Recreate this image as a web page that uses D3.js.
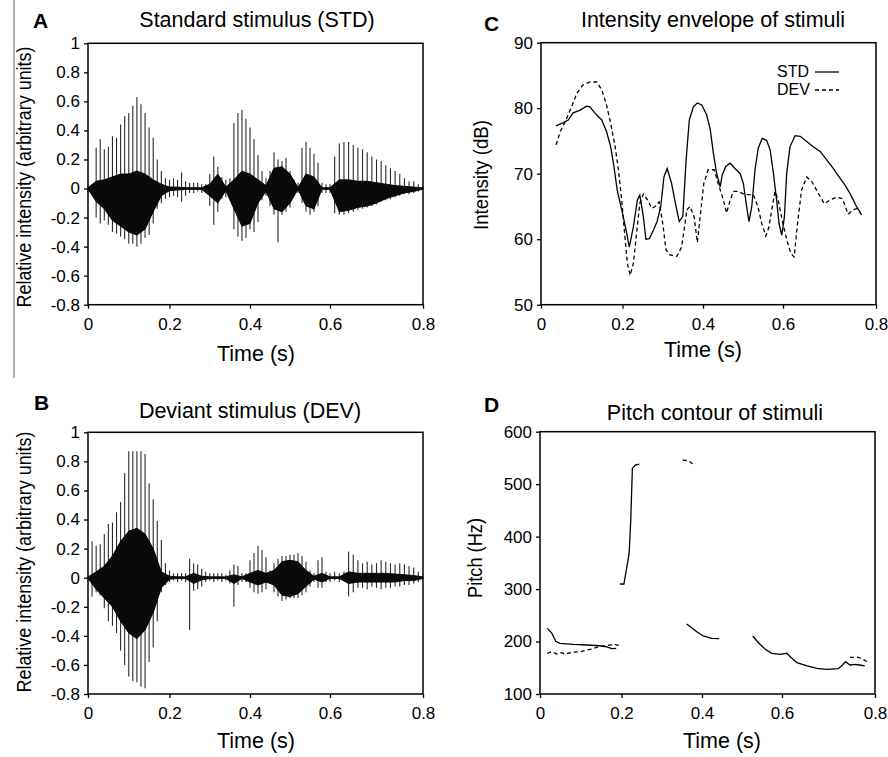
<!DOCTYPE html>
<html>
<head>
<meta charset="utf-8">
<script src="https://cdn.jsdelivr.net/npm/d3@7"></script>
<style>
  body { margin: 0; background: #fff; }
  svg text { font-family: "Liberation Sans", Arial, sans-serif; fill: #000; }
</style>
</head>
<body>
<svg id="chart" width="888" height="757"></svg>
<script>
// ---- data ----
const timeTicks = [0, 0.2, 0.4, 0.6, 0.8];
const waveTicks = [1, 0.8, 0.6, 0.4, 0.2, 0, -0.2, -0.4, -0.6, -0.8];
const dbTicks = [90, 80, 70, 60, 50];
const hzTicks = [600, 500, 400, 300, 200, 100];

// waveform peak envelope, one value every 10 ms
const waveTimes = [0,0.01,0.02,0.03,0.04,0.05,0.06,0.07,0.08,0.09,0.1,0.11,0.12,0.13,0.14,0.15,0.16,0.17,0.18,0.19,
  0.2,0.21,0.22,0.23,0.24,0.25,0.26,0.27,0.28,0.29,0.3,0.31,0.32,0.33,0.34,0.35,0.36,0.37,0.38,0.39,
  0.4,0.41,0.42,0.43,0.44,0.45,0.46,0.47,0.48,0.49,0.5,0.51,0.52,0.53,0.54,0.55,0.56,0.57,0.58,0.59,
  0.6,0.61,0.62,0.63,0.64,0.65,0.66,0.67,0.68,0.69,0.7,0.71,0.72,0.73,0.74,0.75,0.76,0.77,0.78,0.79,0.8];
const stdHigh = [0.03,0.03,0.28,0.34,0.27,0.29,0.36,0.35,0.44,0.5,0.52,0.57,0.63,0.58,0.52,0.42,0.35,0.2,0.12,0.07,
  0.06,0.07,0.06,0.11,0.05,0.04,0.04,0.04,0.03,0.03,0.1,0.22,0.15,0.08,0.06,0.07,0.45,0.52,0.54,0.48,
  0.42,0.34,0.23,0.12,0.07,0.12,0.25,0.2,0.19,0.21,0.12,0.06,0.04,0.28,0.32,0.28,0.24,0.18,0.04,0.03,
  0.03,0.22,0.31,0.32,0.32,0.3,0.28,0.27,0.25,0.22,0.2,0.19,0.16,0.14,0.12,0.1,0.07,0.05,0.05,0.03,0.02];
const stdLow = [-0.02,-0.03,-0.2,-0.24,-0.22,-0.25,-0.3,-0.31,-0.33,-0.35,-0.38,-0.38,-0.4,-0.38,-0.34,-0.32,-0.24,-0.14,-0.1,-0.07,
  -0.06,-0.05,-0.06,-0.09,-0.05,-0.03,-0.03,-0.02,-0.03,-0.02,-0.12,-0.25,-0.16,-0.07,-0.06,-0.05,-0.28,-0.33,-0.36,-0.34,
  -0.28,-0.3,-0.23,-0.08,-0.05,-0.12,-0.18,-0.37,-0.18,-0.16,-0.13,-0.05,-0.03,-0.1,-0.16,-0.18,-0.16,-0.12,-0.03,-0.03,
  -0.03,-0.17,-0.18,-0.18,-0.17,-0.16,-0.15,-0.14,-0.13,-0.12,-0.11,-0.09,-0.08,-0.07,-0.06,-0.05,-0.04,-0.04,-0.03,-0.02,-0.01];
const devHigh = [0.02,0.25,0.22,0.23,0.3,0.37,0.38,0.45,0.52,0.72,0.87,0.87,0.87,0.87,0.85,0.65,0.54,0.39,0.26,0.1,
  0.05,0.03,0.03,0.03,0.03,0.13,0.1,0.09,0.06,0.04,0.03,0.03,0.03,0.03,0.02,0.05,0.09,0.08,0.03,0.03,
  0.12,0.17,0.22,0.19,0.14,0.05,0.1,0.13,0.15,0.15,0.16,0.16,0.17,0.15,0.11,0.05,0.03,0.12,0.14,0.04,
  0.03,0.04,0.03,0.04,0.18,0.16,0.12,0.1,0.11,0.09,0.1,0.12,0.11,0.1,0.09,0.1,0.09,0.08,0.07,0.04,0.02];
const devLow = [-0.02,-0.13,-0.1,-0.12,-0.21,-0.3,-0.33,-0.38,-0.5,-0.6,-0.68,-0.71,-0.72,-0.75,-0.76,-0.58,-0.48,-0.3,-0.1,-0.05,
  -0.03,-0.02,-0.03,-0.02,-0.03,-0.36,-0.09,-0.08,-0.06,-0.03,-0.02,-0.03,-0.02,-0.03,-0.02,-0.04,-0.2,-0.05,-0.03,-0.03,
  -0.07,-0.1,-0.11,-0.1,-0.08,-0.04,-0.1,-0.13,-0.16,-0.15,-0.14,-0.14,-0.14,-0.12,-0.1,-0.06,-0.03,-0.07,-0.07,-0.03,
  -0.03,-0.02,-0.03,-0.02,-0.13,-0.1,-0.07,-0.07,-0.08,-0.06,-0.07,-0.08,-0.07,-0.07,-0.06,-0.06,-0.05,-0.05,-0.04,-0.03,-0.01];

// dense dark core of the waveform, every 20 ms
const coreTimes = [0,0.02,0.04,0.06,0.08,0.1,0.12,0.14,0.16,0.18,0.2,0.22,0.24,0.26,0.28,0.3,0.32,0.34,0.36,0.38,
  0.4,0.42,0.44,0.46,0.48,0.5,0.52,0.54,0.56,0.58,0.6,0.62,0.64,0.66,0.68,0.7,0.72,0.74,0.76,0.78,0.8];
const stdCoreHigh = [0.005,0.05,0.06,0.08,0.1,0.1,0.12,0.1,0.06,0.03,0.01,0.01,0.006,0.006,0.005,0.03,0.1,0.01,0.06,0.12,
  0.1,0.06,0.02,0.14,0.15,0.1,0.006,0.1,0.08,0.006,0.006,0.06,0.06,0.05,0.05,0.04,0.03,0.02,0.015,0.01,0.005];
const stdCoreLow = [-0.005,-0.09,-0.14,-0.22,-0.26,-0.3,-0.32,-0.28,-0.16,-0.05,-0.015,-0.01,-0.006,-0.006,-0.006,-0.05,-0.1,-0.015,-0.14,-0.26,
  -0.24,-0.1,-0.02,-0.14,-0.16,-0.1,-0.006,-0.12,-0.14,-0.006,-0.006,-0.16,-0.15,-0.13,-0.12,-0.1,-0.07,-0.05,-0.03,-0.02,-0.005];
const devCoreHigh = [0.005,0.04,0.08,0.15,0.25,0.32,0.34,0.3,0.2,0.04,0.01,0.006,0.006,0.03,0.01,0.006,0.006,0.006,0.02,0.006,
  0.03,0.05,0.03,0.05,0.11,0.12,0.11,0.05,0.01,0.03,0.006,0.006,0.04,0.03,0.03,0.03,0.03,0.025,0.02,0.015,0.005];
const devCoreLow = [-0.005,-0.08,-0.14,-0.2,-0.3,-0.38,-0.42,-0.36,-0.24,-0.07,-0.01,-0.006,-0.006,-0.04,-0.015,-0.006,-0.006,-0.006,-0.04,-0.006,
  -0.03,-0.05,-0.03,-0.05,-0.12,-0.13,-0.11,-0.06,-0.01,-0.03,-0.006,-0.006,-0.04,-0.03,-0.03,-0.03,-0.03,-0.03,-0.02,-0.02,-0.005];

// intensity envelope (dB)
const intStdTime = [0.037,0.055,0.067,0.079,0.096,0.112,0.12,0.133,0.149,0.161,0.171,0.179,0.187,0.198,0.209,0.217,0.227,0.237,0.243,0.252,
  0.258,0.267,0.277,0.286,0.295,0.303,0.311,0.322,0.333,0.341,0.35,0.358,0.366,0.376,0.386,0.397,0.409,0.418,0.426,0.434,
  0.443,0.448,0.457,0.468,0.48,0.493,0.501,0.509,0.515,0.522,0.53,0.538,0.548,0.559,0.568,0.576,0.584,0.59,0.597,0.603,
  0.608,0.615,0.626,0.637,0.651,0.665,0.68,0.694,0.708,0.723,0.733,0.744,0.751,0.758,0.769];
const intStd = [77.3,77.8,78.2,79.3,79.7,80.3,80.2,79.2,78.2,76.4,74.1,71.1,67.5,64.5,61.4,58.8,61.9,66,66.7,63.4,
  60,60.1,61.4,62.7,65,69.5,70.8,68.5,65,62.7,63.5,72.1,78.2,80.2,80.8,80.5,79,76.8,73.1,70.1,
  68,69.8,71.1,71.6,70.8,70,68.5,65,62.7,65,70.6,73.9,75.4,75.1,73.6,70.1,66,62.4,60.6,63.4,
  70.1,74.1,75.8,75.7,74.9,74.1,73.4,72.1,70.8,69.3,68.3,67,66,65,63.7];
const intDevTime = [0.037,0.047,0.059,0.075,0.088,0.102,0.12,0.137,0.149,0.16,0.171,0.182,0.19,0.198,0.206,0.212,0.219,0.227,0.235,0.243,
  0.252,0.262,0.273,0.281,0.291,0.3,0.308,0.318,0.335,0.347,0.36,0.368,0.378,0.386,0.394,0.402,0.413,0.428,0.438,0.451,
  0.459,0.468,0.476,0.488,0.505,0.526,0.537,0.547,0.557,0.565,0.572,0.58,0.588,0.598,0.608,0.617,0.624,0.632,0.64,0.651,
  0.662,0.676,0.689,0.701,0.715,0.728,0.74,0.751,0.761,0.769];
const intDev = [74.4,76.4,77.9,80.2,82.3,83.5,84,84,82.8,80.7,77.7,74.1,70.6,66,60.4,56.3,54.5,56.3,60.9,65.5,
  66.9,66,64.7,65,65.7,62.4,58.4,57.6,57.4,58.8,64.5,65,63.4,59.5,64,68.5,70.6,70.6,68.5,66,
  64,66,67.3,67.3,66.8,66.8,65,62.4,60.5,61.9,64.5,67.3,66,62.9,59.9,57.8,57.3,62.9,67.5,69.5,
  68.8,67,65.4,66,66.4,66.2,63.8,64.5,64.7,63.7];

// pitch contour (Hz), null = unvoiced gap
const pitchStdTime = [0.018,0.029,0.039,0.049,0.082,0.115,0.147,0.164,0.176,0.187,0.19,
  0.196,0.206,0.219,0.223,0.227,0.234,0.244,0.3,
  0.362,0.387,0.403,0.424,0.443,0.5,
  0.527,0.541,0.558,0.574,0.595,0.61,0.619,0.632,0.654,0.675,0.696,0.721,0.728,0.737,0.746,0.757,0.767,0.778];
const pitchStd = [225,216,200,196.6,194.7,193.4,192,190,186.4,187,null,
  309.7,309.7,368,431.7,530,536.5,538.4,null,
  233.4,218.8,210.6,206.2,205.4,null,
  210.6,197.8,185.2,177.6,175.7,177.6,170,159.7,153.4,149,147.1,148.2,153.4,161.6,155.3,156.6,155.3,153.4];
const pitchDevTime = [0.018,0.029,0.041,0.053,0.061,0.078,0.098,0.123,0.143,0.164,0.18,0.2,0.27,
  0.352,0.366,0.381,0.5,
  0.746,0.764,0.774,0.787];
const pitchDev = [177.6,180.6,176.3,178.7,175.7,179.5,180.6,185,190,192,195,191.5,null,
  546,544.7,536.5,null,
  170,170,166,159.7];

// ---- drawing ----
const svg = d3.select("#chart");
const FONT = 17;

// thin grey rule at the far left
svg.append("line").attr("x1", 14).attr("x2", 14).attr("y1", 0).attr("y2", 378)
  .attr("stroke", "#999").attr("stroke-width", 1.5);

// the time axis of the original is not evenly spaced: last interval is wider
function timeScale(x0) {
  return d3.scaleLinear().domain(timeTicks).range([x0, x0 + 81.5, x0 + 162, x0 + 242, x0 + 335]);
}
const fmt = d => String(+d.toFixed(1));

function panel(opt) {
  const x = timeScale(opt.left);
  const y = d3.scaleLinear().domain(opt.yDomain).range([opt.bottom, opt.top]);
  const g = svg.append("g");

  const xa = g.append("g").attr("transform", `translate(0,${opt.bottom})`)
    .call(d3.axisBottom(x).tickValues(timeTicks).tickFormat(fmt).tickSize(4).tickPadding(7));
  const ya = g.append("g").attr("transform", `translate(${opt.left},0)`)
    .call(d3.axisLeft(y).tickValues(opt.yTicks).tickFormat(fmt).tickSize(4).tickPadding(4));
  [xa, ya].forEach(a => {
    a.select(".domain").remove();
    a.selectAll(".tick line").attr("stroke", "#000").attr("stroke-width", 1.3);
    a.selectAll(".tick text").attr("font-size", FONT).style("font-family", '"Liberation Sans", Arial, sans-serif').attr("fill", "#000");
  });
  xa.selectAll(".tick text").attr("dy", "0.85em");

  g.append("rect").attr("x", opt.left).attr("y", opt.top)
    .attr("width", x(0.8) - opt.left).attr("height", opt.bottom - opt.top)
    .attr("fill", "none").attr("stroke", "#000").attr("stroke-width", 1.5);

  g.append("text").attr("x", opt.letterX).attr("y", opt.letterY)
    .attr("font-size", 21).attr("font-weight", "bold").text(opt.letter);
  g.append("text").attr("x", opt.titleX).attr("y", opt.titleY).attr("text-anchor", "middle")
    .attr("font-size", 21.5).text(opt.title);
  g.append("text").attr("x", opt.xlabX).attr("y", opt.xlabY).attr("text-anchor", "middle")
    .attr("font-size", 21.5).text("Time (s)");
  g.append("text").attr("transform", `translate(${opt.ylabX},${opt.ylabY}) rotate(-90)`)
    .attr("text-anchor", "middle").attr("font-size", 20)
    .attr("textLength", opt.ylabLen).attr("lengthAdjust", "spacingAndGlyphs").text(opt.ylab);
  return { g, x, y };
}

function waveform(p, high, low, coreHigh, coreLow) {
  p.g.append("g").selectAll("line").data(waveTimes).join("line")
    .attr("x1", d => p.x(d)).attr("x2", d => p.x(d))
    .attr("y1", (d, i) => p.y(high[i])).attr("y2", (d, i) => p.y(low[i]))
    .attr("stroke", "#2a2a2a").attr("stroke-width", 1.1);
  const area = d3.area().x(d => p.x(d)).y0((d, i) => p.y(coreLow[i])).y1((d, i) => p.y(coreHigh[i]));
  p.g.append("path").datum(coreTimes).attr("d", area).attr("fill", "#0a0a0a")
    .attr("stroke", "#000").attr("stroke-width", 0.9);
}

const pA = panel({ left: 88, top: 43.3, bottom: 304.7, yDomain: [-0.8, 1], yTicks: waveTicks,
  letter: "A", letterX: 33, letterY: 28, title: "Standard stimulus (STD)", titleX: 257, titleY: 27,
  xlabX: 256, xlabY: 361, ylab: "Relative intensity (arbitrary units)", ylabX: 31, ylabY: 177, ylabLen: 261 });
waveform(pA, stdHigh, stdLow, stdCoreHigh, stdCoreLow);

const pB = panel({ left: 88, top: 432.3, bottom: 694, yDomain: [-0.8, 1], yTicks: waveTicks,
  letter: "B", letterX: 34, letterY: 410, title: "Deviant stimulus (DEV)", titleX: 250, titleY: 418,
  xlabX: 256, xlabY: 748, ylab: "Relative intensity (arbitrary units)", ylabX: 31, ylabY: 562, ylabLen: 261 });
waveform(pB, devHigh, devLow, devCoreHigh, devCoreLow);

const pC = panel({ left: 541, top: 42.7, bottom: 304.7, yDomain: [50, 90], yTicks: dbTicks,
  letter: "C", letterX: 484, letterY: 31, title: "Intensity envelope of stimuli", titleX: 713, titleY: 27,
  xlabX: 703, xlabY: 357, ylab: "Intensity (dB)", ylabX: 488, ylabY: 175, ylabLen: 110 });
const lineC = (times) => d3.line().x((d, i) => pC.x(times[i])).y(d => pC.y(d));
pC.g.append("path").datum(intStd).attr("d", lineC(intStdTime))
  .attr("fill", "none").attr("stroke", "#000").attr("stroke-width", 1.3);
pC.g.append("path").datum(intDev).attr("d", lineC(intDevTime))
  .attr("fill", "none").attr("stroke", "#000").attr("stroke-width", 1.3).attr("stroke-dasharray", "4,3");
// legend
pC.g.append("text").attr("x", 777).attr("y", 77).attr("font-size", 16).text("STD");
pC.g.append("text").attr("x", 777).attr("y", 95).attr("font-size", 16).text("DEV");
pC.g.append("line").attr("x1", 815).attr("x2", 839).attr("y1", 72).attr("y2", 72)
  .attr("stroke", "#000").attr("stroke-width", 1.3);
pC.g.append("line").attr("x1", 815).attr("x2", 839).attr("y1", 90).attr("y2", 90)
  .attr("stroke", "#000").attr("stroke-width", 1.3).attr("stroke-dasharray", "4,3");

const pD = panel({ left: 540, top: 431.7, bottom: 694, yDomain: [100, 600], yTicks: hzTicks,
  letter: "D", letterX: 484, letterY: 412, title: "Pitch contour of stimuli", titleX: 715, titleY: 420,
  xlabX: 722, xlabY: 748, ylab: "Pitch (Hz)", ylabX: 482, ylabY: 558, ylabLen: 80 });
const lineD = (times) => d3.line().defined(d => d !== null).x((d, i) => pD.x(times[i])).y(d => pD.y(d));
pD.g.append("path").datum(pitchStd).attr("d", lineD(pitchStdTime))
  .attr("fill", "none").attr("stroke", "#000").attr("stroke-width", 1.3);
pD.g.append("path").datum(pitchDev).attr("d", lineD(pitchDevTime))
  .attr("fill", "none").attr("stroke", "#000").attr("stroke-width", 1.3).attr("stroke-dasharray", "4,3");
</script>
</body>
</html>
